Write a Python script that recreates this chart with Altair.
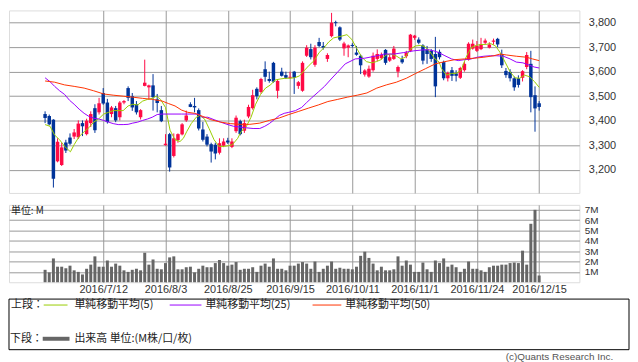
import altair as alt
import pandas as pd

# ---------------- data ----------------
opens = [3427, 3419, 3404, 3234, 3219, 3311, 3331, 3335, 3332, 3390,
         3345, 3390, 3451, 3434, 3513, 3474, 3427, 3451, 3414, 3474,
         3533, 3500, 3467, 3414, 3542, 3536, 3544, 3487, 3443, 3300,
         3345, 3256, 3321, 3344, 3401, 3467, 3460, 3443, 3364, 3335,
         3304, 3302, 3269, 3298, 3319, 3293, 3357, 3398, 3359, 3417,
         3451, 3530, 3517, 3610, 3570, 3636, 3522, 3600, 3586, 3575,
         3600, 3542, 3522, 3665, 3692, 3628, 3721, 3705, 3652, 3745,
         3802, 3781, 3695, 3698, 3709, 3678, 3665, 3588, 3580, 3606,
         3652, 3655, 3689, 3645, 3652, 3600, 3651, 3663, 3685, 3738,
         3731, 3707, 3690, 3685, 3672, 3681, 3639, 3573, 3606, 3593,
         3575, 3606, 3649, 3694, 3685, 3692, 3718, 3698, 3722, 3734,
         3672, 3603, 3599, 3573, 3573, 3575, 3619, 3632, 3504, 3471]
highs = [3438, 3425, 3406, 3328, 3310, 3322, 3348, 3366, 3401, 3401,
         3408, 3438, 3467, 3493, 3533, 3489, 3460, 3460, 3480, 3484,
         3540, 3513, 3480, 3447, 3649, 3547, 3590, 3509, 3460, 3345,
         3350, 3348, 3348, 3390, 3441, 3475, 3493, 3450, 3395, 3345,
         3310, 3310, 3328, 3328, 3330, 3328, 3421, 3404, 3404, 3465,
         3526, 3536, 3575, 3642, 3600, 3640, 3570, 3616, 3600, 3600,
         3603, 3562, 3642, 3708, 3714, 3708, 3738, 3721, 3675, 3840,
         3808, 3785, 3722, 3711, 3716, 3705, 3670, 3610, 3625, 3678,
         3691, 3678, 3692, 3668, 3705, 3625, 3665, 3685, 3754, 3750,
         3740, 3712, 3705, 3692, 3742, 3690, 3645, 3600, 3619, 3606,
         3620, 3640, 3720, 3731, 3725, 3738, 3735, 3720, 3735, 3738,
         3690, 3615, 3610, 3580, 3585, 3606, 3680, 3685, 3540, 3480]
lows = [3390, 3381, 3127, 3230, 3215, 3268, 3300, 3325, 3325, 3337,
        3340, 3374, 3350, 3425, 3465, 3388, 3414, 3394, 3401, 3467,
        3480, 3440, 3425, 3405, 3540, 3487, 3441, 3434, 3394, 3298,
        3192, 3250, 3310, 3340, 3395, 3455, 3434, 3360, 3315, 3295,
        3229, 3242, 3262, 3292, 3305, 3288, 3350, 3340, 3350, 3410,
        3445, 3487, 3510, 3559, 3555, 3555, 3491, 3580, 3570, 3570,
        3509, 3530, 3518, 3660, 3650, 3620, 3700, 3690, 3640, 3740,
        3785, 3725, 3665, 3659, 3698, 3665, 3590, 3580, 3575, 3600,
        3643, 3650, 3628, 3640, 3648, 3577, 3632, 3655, 3680, 3730,
        3712, 3630, 3632, 3640, 3496, 3650, 3565, 3560, 3562, 3560,
        3570, 3600, 3645, 3690, 3680, 3688, 3710, 3695, 3710, 3700,
        3615, 3575, 3560, 3522, 3535, 3560, 3610, 3434, 3355, 3441]
closes = [3411, 3385, 3163, 3314, 3291, 3278, 3306, 3352, 3388, 3377,
          3400, 3427, 3361, 3471, 3470, 3394, 3454, 3401, 3474, 3480,
          3493, 3454, 3434, 3443, 3555, 3544, 3496, 3472, 3398, 3306,
          3209, 3328, 3345, 3385, 3421, 3456, 3454, 3368, 3322, 3302,
          3274, 3266, 3308, 3315, 3311, 3315, 3412, 3345, 3390, 3456,
          3504, 3500, 3570, 3579, 3562, 3559, 3562, 3583, 3575, 3579,
          3575, 3557, 3636, 3698, 3659, 3698, 3705, 3698, 3668, 3800,
          3798, 3731, 3715, 3707, 3705, 3669, 3626, 3605, 3612, 3665,
          3672, 3668, 3636, 3659, 3694, 3619, 3638, 3678, 3751, 3747,
          3718, 3645, 3672, 3652, 3540, 3659, 3573, 3595, 3583, 3583,
          3615, 3632, 3714, 3714, 3705, 3711, 3727, 3711, 3727, 3711,
          3626, 3586, 3573, 3536, 3546, 3602, 3668, 3496, 3450, 3456]
volumes_m = [1.2, 0.95, 2.3, 1.5, 1.5, 1.35, 1.6, 1.15, 1.0, 0.75,
             1.3, 1.7, 2.5, 1.5, 1.5, 2.1, 1.5, 1.8, 1.6, 1.15,
             1.0, 1.2, 1.3, 1.15, 2.85, 1.7, 2.2, 1.3, 1.25, 1.85,
             2.4, 2.5, 1.25, 1.25, 1.45, 1.5, 0.95, 1.3, 1.6, 1.45,
             1.45, 1.85, 2.15, 1.85, 1.6, 1.7, 1.95, 1.2, 1.3, 1.3,
             1.45, 1.0, 1.6, 1.8, 1.5, 2.3, 1.3, 1.3, 1.15, 1.6,
             1.6, 1.8, 1.95, 1.8, 1.3, 2.0, 1.0, 1.3, 1.6, 2.0,
             1.3, 1.4, 1.3, 1.3, 1.25, 1.5, 2.55, 2.95, 2.35, 1.8,
             1.15, 1.5, 1.15, 1.15, 1.25, 2.5, 1.6, 2.1, 1.7, 1.0,
             1.0, 1.9, 1.25, 1.0, 2.1, 1.85, 2.3, 1.5, 1.7, 1.45,
             1.0, 1.3, 2.0, 1.3, 1.3, 1.15, 1.0, 1.45, 1.6, 1.6,
             1.7, 1.7, 1.85, 1.9, 1.85, 3.05, 1.7, 5.65, 7.0, 0.65]
day_index = list(range(len(closes)))

tick_idx = [14, 29, 44, 59, 74, 89, 104, 119]
tick_labels = ["2016/7/12", "2016/8/3", "2016/8/25", "2016/9/15",
               "2016/10/11", "2016/11/1", "2016/11/24", "2016/12/15"]
price_ticks = [3200, 3300, 3400, 3500, 3600, 3700, 3800]
price_labels = ["3,200", "3,300", "3,400", "3,500", "3,600", "3,700", "3,800"]
volume_ticks = [1, 2, 3, 4, 5, 6, 7]

ma5_x = [0, 1.2, 2.3, 3.5, 4.7, 6.1, 7, 8.2, 9.4, 10.6, 11.7, 12.9, 14.1, 15.3, 16.4, 17.6, 18.8, 20, 21.1, 22.3,
         23.5, 24.7, 25.8, 26.8, 27.8, 29, 30.1, 31.3, 32.5, 33.3, 34.1, 35.2, 36.4, 37.2, 38.4, 39.5, 40.7, 41.9,
         43.2, 44.2, 45.1, 46.4, 47.2, 48.4, 49.6, 50.7, 51.9, 53.1, 54.3, 55.4, 56.6, 57.8, 58.9, 60.1, 61.3, 62.5,
         63.6, 64.8, 66, 67.2, 68.3, 69.5, 71.2, 72.7, 73.9, 75.1, 76.3, 77.4, 78.6, 79.8, 80.9, 82.1, 83.3, 84.5,
         85.7, 86.8, 88, 89.2, 90.4, 91.5, 92.7, 93.9, 94.9, 95.5, 96.7, 97.9, 99, 100.2, 101.4, 102.6, 103.8, 104.9,
         106.1, 107.3, 108.5, 109.6, 110.8, 112, 113.2, 114.3, 115.5, 116.7, 117.9, 119]
ma5_v = [3384, 3377, 3341, 3322, 3295, 3273, 3302, 3335, 3355, 3372, 3394, 3407, 3427, 3434, 3441, 3441, 3441, 3460, 3467, 3464,
         3480, 3487, 3491, 3500, 3487, 3454, 3361, 3322, 3315, 3328, 3355, 3388, 3414, 3421, 3407, 3368, 3322, 3295,
         3295, 3298, 3302, 3328, 3355, 3374, 3414, 3467, 3507, 3533, 3546, 3566, 3570, 3573, 3573, 3575, 3583, 3606,
         3626, 3645, 3678, 3698, 3721, 3738, 3744, 3751, 3731, 3694, 3659, 3641, 3636, 3641, 3649, 3668, 3672, 3665,
         3652, 3659, 3692, 3705, 3707, 3702, 3681, 3652, 3639, 3612, 3586, 3593, 3593, 3606, 3659, 3698, 3707, 3711,
         3711, 3715, 3705, 3678, 3639, 3599, 3575, 3573, 3586, 3579, 3559, 3536]

ma25_x = [0, 1.2, 2.3, 3.5, 4.7, 5.9, 7, 8.2, 9.4, 10.6, 11.7, 12.9, 14.1, 15.3, 16.4, 17.6, 18.8, 20, 21.1, 22.3,
          23.5, 24.7, 25.8, 27, 28.2, 32.9, 36.8, 38, 39.2, 40.7, 42.3, 43.8, 45.4, 47.8, 50.1, 51.7, 52.9, 54, 55.2,
          56.4, 57.6, 58.7, 60.3, 61.8, 63, 64.2, 65.8, 67.3, 68.9, 70.5, 72.3, 74.7, 77, 79.4, 81.7, 84.1, 86.4, 88.8,
          91.1, 92.5, 93.6, 94.8, 96.3, 97.9, 99.5, 101, 102.6, 104.1, 105.7, 107.3, 108.8, 110.4, 112, 113.5, 115.1,
          116.7, 117.8, 119]
ma25_v = [3575, 3559, 3540, 3522, 3507, 3483, 3467, 3447, 3430, 3417, 3410, 3407, 3401, 3394, 3388, 3384, 3384, 3385, 3390, 3394,
          3401, 3407, 3414, 3425, 3427, 3427, 3427, 3414, 3414, 3404, 3394, 3385, 3377, 3372, 3368, 3368, 3377, 3388, 3404,
          3421, 3430, 3434, 3441, 3454, 3474, 3493, 3517, 3540, 3570, 3599, 3632, 3652, 3655, 3663, 3672, 3672, 3678, 3685,
          3689, 3689, 3685, 3678, 3665, 3652, 3645, 3649, 3652, 3659, 3663, 3665, 3665, 3663, 3652, 3639, 3636,
          3626, 3619, 3615]

ma50_x = [0, 2.3, 4.7, 7, 9.4, 11.7, 14.1, 16.4, 18.8, 21.1, 23.5, 25.8, 28.2, 29.7, 31.3, 32.9, 34.4, 36, 37.6, 39.9,
          42.3, 44.6, 47, 49.3, 51.7, 54, 56.4, 58.7, 61.1, 63.4, 65.8, 68.1, 70.5, 72.8, 75.2, 77.5, 79.9, 82.2, 84.6,
          87, 89.3, 91.6, 94, 96.3, 98.7, 101, 103.4, 105.7, 108.1, 109.6, 111.2, 113.5, 115.9, 117.4, 119]
ma50_v = [3562, 3557, 3546, 3540, 3533, 3522, 3509, 3504, 3500, 3496, 3491, 3487, 3480, 3470, 3460, 3443, 3434, 3430, 3420, 3404,
          3394, 3388, 3385, 3385, 3390, 3401, 3411, 3425, 3438, 3451, 3464, 3478, 3487, 3496, 3504, 3513, 3533, 3546, 3557,
          3573, 3593, 3612, 3632, 3641, 3649, 3652, 3655, 3659, 3665, 3672, 3668, 3663, 3659, 3652, 3645]

ma_names = ["単純移動平均(5)", "単純移動平均(25)", "単純移動平均(50)"]
ma_colors = ["#99cc00", "#9900ff", "#ff3300"]

# ---------------- tables ----------------
df = pd.DataFrame({"i": day_index, "open": opens, "high": highs, "low": lows,
                   "close": closes, "vol": volumes_m})
ma_df = pd.concat([
    pd.DataFrame({"i": ma5_x, "v": ma5_v, "s": ma_names[0]}),
    pd.DataFrame({"i": ma25_x, "v": ma25_v, "s": ma_names[1]}),
    pd.DataFrame({"i": ma50_x, "v": ma50_v, "s": ma_names[2]}),
])
one = pd.DataFrame({"k": [0]})

RED = "#ff0a45"
BLUE = "#003399"
GRID = "#999999"
W = 575
LAB_FONT = "Liberation Sans"
JP_FONT = "Noto Sans CJK JP"


def lookup_expr(keys, labels):
    return " : ".join(f"datum.value == {k} ? '{l}'" for k, l in zip(keys, labels)) + " : ''"


x_scale = alt.Scale(domain=[-7.5, 127.5], nice=False, zero=False)
y_scale = alt.Scale(domain=[3105, 3850], nice=False, zero=False)
updown = alt.condition("datum.close >= datum.open", alt.value(RED), alt.value(BLUE))

x_axis_up = alt.Axis(values=tick_idx, labels=False, ticks=False, domain=False,
                     grid=True, gridColor=GRID, gridOpacity=1, title=None)
y_axis_up = alt.Axis(orient="right", values=price_ticks,
                     labelExpr=lookup_expr(price_ticks, price_labels), grid=True,
                     gridColor=GRID, gridOpacity=1, ticks=False, domain=False,
                     labelPadding=9, labelFont=LAB_FONT, labelFontSize=11,
                     labelColor="#333", title=None)

x_up = alt.X("i:Q", scale=x_scale, axis=x_axis_up)

wicks = alt.Chart(df).mark_rule(strokeWidth=1).encode(
    x=x_up,
    y=alt.Y("low:Q", scale=y_scale, axis=y_axis_up),
    y2="high:Q",
    color=updown,
)
bodies = alt.Chart(df).mark_bar(size=3.5).encode(
    x=x_up,
    y=alt.Y("open:Q", scale=y_scale, axis=y_axis_up),
    y2="close:Q",
    color=updown,
)
ma_lines = alt.Chart(ma_df).mark_line(strokeWidth=1, clip=True).encode(
    x=x_up,
    y=alt.Y("v:Q", scale=y_scale, axis=y_axis_up),
    color=alt.Color("s:N", scale=alt.Scale(domain=ma_names, range=ma_colors), legend=None),
    detail="s:N",
)
upper = alt.layer(wicks, bodies, ma_lines).properties(width=W, height=184)

vol_bars = alt.Chart(df).mark_bar(size=3, color="#666666").encode(
    x=alt.X("i:Q", scale=x_scale,
            axis=alt.Axis(values=tick_idx, labelExpr=lookup_expr(tick_idx, tick_labels),
                          grid=True, gridColor=GRID,
                          gridOpacity=1, ticks=False, domain=False, labelFont=LAB_FONT,
                          labelFontSize=11, labelColor="#333", labelPadding=1,
                          labelOverlap=False, labelFlush=False, labelAngle=0, title=None)),
    y=alt.Y("vol:Q", scale=alt.Scale(domain=[0, 7.48], nice=False, zero=True),
            axis=alt.Axis(orient="right", values=volume_ticks,
                          labelExpr="datum.value + 'M'", grid=True, gridColor=GRID,
                          gridOpacity=1, ticks=False, domain=False, labelPadding=5,
                          labelFont=LAB_FONT, labelFontSize=10, labelColor="#333", title=None)),
)


def txt(s, x, y, size=11, align="left", color="#222", font=JP_FONT):
    return alt.Chart(one).mark_text(text=s, align=align, baseline="middle", font=font,
                                    fontSize=size, color=color).encode(
        x=alt.value(x), y=alt.value(y))


def seg(x1, x2, y, color, width=1):
    return alt.Chart(one).mark_rule(color=color, strokeWidth=width).encode(
        x=alt.value(x1), x2=alt.value(x2), y=alt.value(y))


unit_label = txt("単位: M", 2, 6, size=10)
legend_box = alt.Chart(one).mark_rect(fillOpacity=0, stroke="#000000", strokeWidth=1).encode(
    x=alt.value(0), x2=alt.value(625), y=alt.value(95), y2=alt.value(146))

legend_parts = [
    legend_box,
    txt("上段：", 2, 101),
    seg(35, 59, 101, ma_colors[0]),
    txt(ma_names[0], 66, 101),
    seg(162, 194, 101, ma_colors[1]),
    txt(ma_names[1], 198, 101),
    seg(306, 335, 101, ma_colors[2]),
    txt(ma_names[2], 339, 101),
    txt("下段：", 1, 135),
    seg(34, 61, 135, "#666666", 4),
    txt("出来高 単位:(M株/口/枚)", 66, 135),
    txt("(c)Quants Research Inc.", 609, 153, size=10, align="right", color="#555", font=LAB_FONT),
]

lower = alt.layer(vol_bars, unit_label, *legend_parts).properties(width=W, height=78)

chart = alt.vconcat(upper, lower, spacing=10).configure_view(
    stroke=GRID, strokeWidth=1
).configure(background="white", padding=0)

chart.save("out.html", embed_options={"renderer": "svg", "actions": False})
